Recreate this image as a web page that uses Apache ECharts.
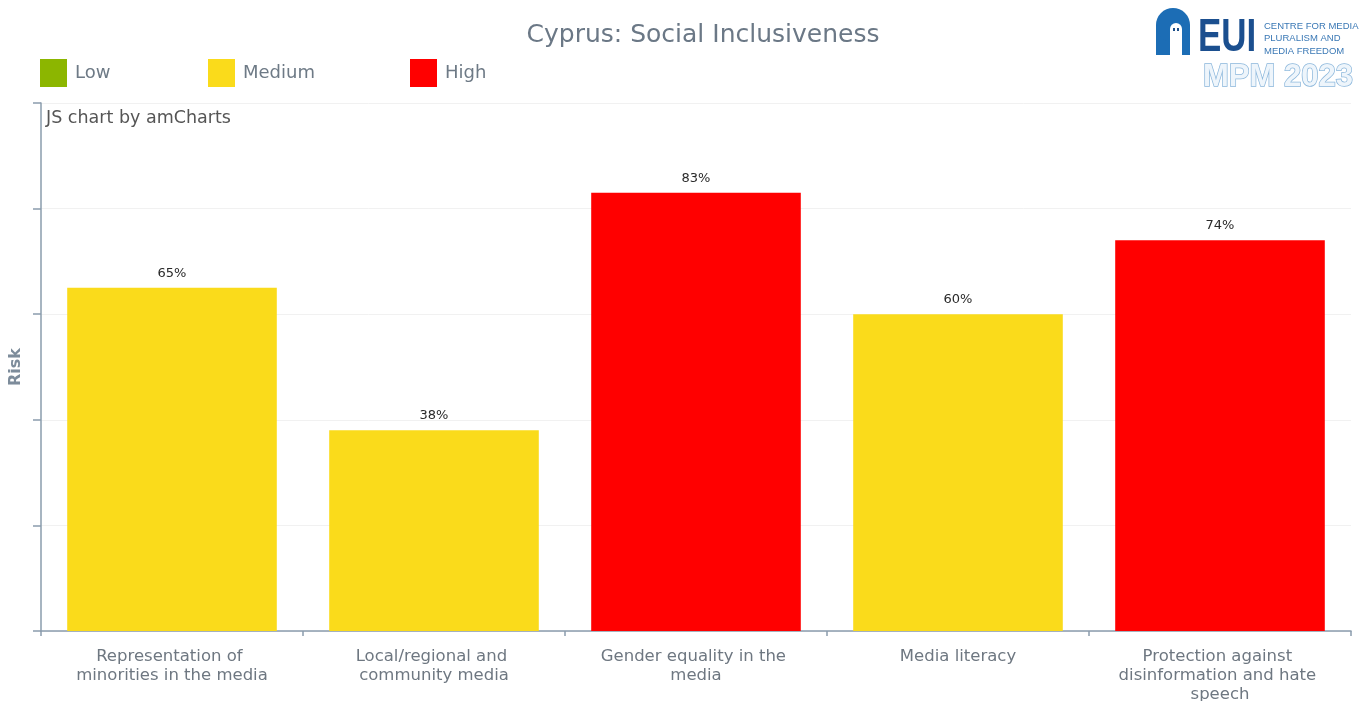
<!DOCTYPE html>
<html>
<head>
<meta charset="utf-8">
<script src="https://cdn.jsdelivr.net/npm/echarts@6/dist/echarts.min.js"></script>
<style>
html,body{margin:0;padding:0;background:#fff;overflow:hidden;}
#main{width:1368px;height:701px;}
</style>
</head>
<body>
<div id="main"></div>
<script>
const categories = [
  "Representation of minorities in the media",
  "Local/regional and community media",
  "Gender equality in the media",
  "Media literacy",
  "Protection against disinformation and hate speech"
];
const riskValues = [65, 38, 83, 60, 74];
const riskLevels = ["Medium", "Medium", "High", "Medium", "High"];
const levelNames = ["Low", "Medium", "High"];
const levelColors = { Low: "#8cb600", Medium: "#fadb1b", High: "#ff0000" };
const yTicks = [0, 20, 40, 60, 80, 100];

const chart = echarts.init(document.getElementById('main'), null, { renderer: 'canvas' });

const series = levelNames.map(function (lvl) {
  return {
    name: lvl,
    type: 'bar',
    stack: 'risk',
    barCategoryGap: '20%',
    itemStyle: { color: levelColors[lvl] },
    label: {
      show: true,
      position: 'top',
      distance: 8,
      formatter: '{c}%',
      color: '#2a2a2a',
      fontSize: 13,
      fontFamily: 'DejaVu Sans'
    },
    data: riskValues.map(function (v, i) { return riskLevels[i] === lvl ? v : '-'; })
  };
});

const legendLefts = [40, 208, 410];
const legends = levelNames.map(function (lvl, i) {
  return {
    data: [lvl],
    left: legendLefts[i],
    top: 59,
    padding: 0,
    itemWidth: 27,
    itemHeight: 28,
    itemGap: 0,
    icon: 'rect',
    selectedMode: false,
    textStyle: { color: '#6e7a86', fontSize: 18, fontFamily: 'DejaVu Sans', padding: [0, 0, 0, 3] }
  };
});

const option = {
  backgroundColor: '#fff',
  animation: false,
  title: {
    text: 'Cyprus: Social Inclusiveness',
    left: 698,
    textAlign: 'center',
    top: 18,
    textStyle: { color: '#6b7886', fontSize: 25, fontWeight: 'normal', fontFamily: 'DejaVu Sans' }
  },
  legend: legends,
  grid: { left: 41, top: 103, width: 1310, height: 528, containLabel: false, outerBoundsMode: 'none' },
  xAxis: {
    type: 'category',
    data: categories,
    axisLine: { lineStyle: { color: '#8a9cad', width: 1.5 } },
    axisTick: { show: true, length: 5, lineStyle: { color: '#8a9cad', width: 1.5 } },
    axisLabel: {
      color: '#6e7781',
      fontSize: 16.5,
      fontFamily: 'DejaVu Sans',
      lineHeight: 19,
      margin: 16,
      width: 215,
      overflow: 'break',
      interval: 0
    }
  },
  yAxis: {
    type: 'value',
    min: yTicks[0],
    max: yTicks[yTicks.length - 1],
    interval: yTicks[1] - yTicks[0],
    name: 'Risk',
    nameLocation: 'middle',
    nameGap: 17,
    nameRotate: 90,
    nameTextStyle: { color: '#7d8c9b', fontSize: 16, fontWeight: 'bold', fontFamily: 'DejaVu Sans' },
    axisLine: { show: true, lineStyle: { color: '#8a9cad', width: 1.5 } },
    axisTick: { show: true, length: 8, lineStyle: { color: '#8a9cad', width: 1.5 } },
    axisLabel: { show: false },
    splitLine: { show: true, lineStyle: { color: '#f1f1f1', width: 1 } }
  },
  graphic: [
    {
      type: 'text', x: 46, y: 109,
      style: { text: 'JS chart by amCharts', fill: '#555', font: '17.5px "DejaVu Sans"' }
    },
    { type: 'rect', shape: { x: 1156, y: 25, width: 34, height: 30 }, style: { fill: '#1c6db5' } },
    { type: 'circle', shape: { cx: 1173, cy: 25, r: 17 }, style: { fill: '#1c6db5' } },
    { type: 'rect', shape: { x: 1170, y: 29, width: 12, height: 26 }, style: { fill: '#ffffff' } },
    { type: 'circle', shape: { cx: 1176, cy: 29, r: 6 }, style: { fill: '#ffffff' } },
    { type: 'rect', shape: { x: 1173, y: 28, width: 2, height: 3 }, style: { fill: '#1c4f8a' } },
    { type: 'rect', shape: { x: 1177, y: 28, width: 2, height: 3 }, style: { fill: '#1c4f8a' } },
    {
      type: 'text', x: 1198, y: 15, scaleX: 0.76,
      style: { text: 'EUI', fill: '#1b4f8f', font: 'bold 46px "Liberation Sans"' }
    },
    {
      type: 'text', x: 1264, y: 20,
      style: { text: 'CENTRE FOR MEDIA\nPLURALISM AND\nMEDIA FREEDOM', fill: '#3a78b5', font: '9.5px "Liberation Sans"', lineHeight: 12.5 }
    },
    {
      type: 'text', x: 1203, y: 61, scaleX: 0.97,
      style: { text: 'MPM 2023', fill: '#eef5fb', stroke: '#8ab6db', lineWidth: 1.5, font: 'bold 32px "Liberation Sans"' }
    }
  ],
  series: series
};

chart.setOption(option);
</script>
</body>
</html>
